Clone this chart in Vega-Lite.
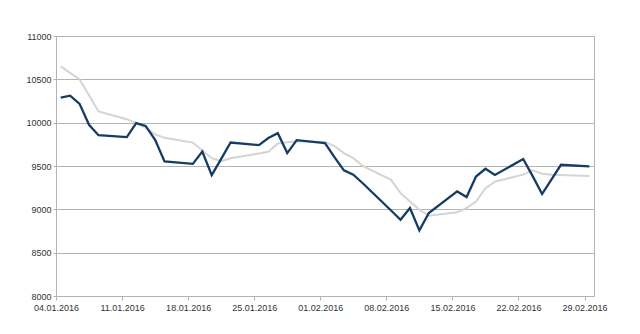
{
  "$schema": "https://vega.github.io/schema/vega-lite/v6.json",
  "width": 538,
  "height": 260,
  "autosize": {"type": "none"},
  "padding": {"left": 56, "top": 36, "right": 46, "bottom": 38},
  "background": "white",
  "config": {
    "view": {"stroke": "#b3b3b3", "strokeWidth": 1},
    "axis": {
      "labelFont": "Liberation Sans",
      "labelFontSize": 9,
      "labelColor": "#333333",
      "domainColor": "#b3b3b3",
      "tickColor": "#b3b3b3",
      "gridColor": "#b3b3b3",
      "title": null
    }
  },
  "data": {
    "values": [
      {"d": "2016-01-04T12:00:00", "a": 10289, "b": 10650},
      {"d": "2016-01-05T12:00:00", "a": 10312, "b": 10575},
      {"d": "2016-01-06T12:00:00", "a": 10217, "b": 10500},
      {"d": "2016-01-07T12:00:00", "a": 9975, "b": 10315},
      {"d": "2016-01-08T12:00:00", "a": 9855, "b": 10130},
      {"d": "2016-01-11T12:00:00", "a": 9833, "b": 10040},
      {"d": "2016-01-12T12:00:00", "a": 9994, "b": 9995},
      {"d": "2016-01-13T12:00:00", "a": 9963, "b": 9940},
      {"d": "2016-01-14T12:00:00", "a": 9802, "b": 9865},
      {"d": "2016-01-15T12:00:00", "a": 9552, "b": 9825},
      {"d": "2016-01-18T12:00:00", "a": 9525, "b": 9770},
      {"d": "2016-01-19T12:00:00", "a": 9667, "b": 9680},
      {"d": "2016-01-20T12:00:00", "a": 9395, "b": 9590},
      {"d": "2016-01-21T12:00:00", "a": 9583, "b": 9555},
      {"d": "2016-01-22T12:00:00", "a": 9771, "b": 9590},
      {"d": "2016-01-25T12:00:00", "a": 9741, "b": 9645},
      {"d": "2016-01-26T12:00:00", "a": 9822, "b": 9665},
      {"d": "2016-01-27T12:00:00", "a": 9879, "b": 9760},
      {"d": "2016-01-28T12:00:00", "a": 9649, "b": 9775},
      {"d": "2016-01-29T12:00:00", "a": 9798, "b": 9785},
      {"d": "2016-02-01T12:00:00", "a": 9764, "b": 9778},
      {"d": "2016-02-02T12:00:00", "a": 9602, "b": 9730},
      {"d": "2016-02-03T12:00:00", "a": 9449, "b": 9648},
      {"d": "2016-02-04T12:00:00", "a": 9399, "b": 9590},
      {"d": "2016-02-05T12:00:00", "a": 9301, "b": 9500},
      {"d": "2016-02-08T12:00:00", "a": 8987, "b": 9340},
      {"d": "2016-02-09T12:00:00", "a": 8880, "b": 9188},
      {"d": "2016-02-10T12:00:00", "a": 9015, "b": 9090},
      {"d": "2016-02-11T12:00:00", "a": 8757, "b": 8995},
      {"d": "2016-02-12T12:00:00", "a": 8957, "b": 8925},
      {"d": "2016-02-15T12:00:00", "a": 9207, "b": 8965},
      {"d": "2016-02-16T12:00:00", "a": 9142, "b": 9015},
      {"d": "2016-02-17T12:00:00", "a": 9379, "b": 9090},
      {"d": "2016-02-18T12:00:00", "a": 9468, "b": 9245},
      {"d": "2016-02-19T12:00:00", "a": 9396, "b": 9320},
      {"d": "2016-02-22T12:00:00", "a": 9580, "b": 9400},
      {"d": "2016-02-23T12:00:00", "a": 9383, "b": 9450},
      {"d": "2016-02-24T12:00:00", "a": 9176, "b": 9410},
      {"d": "2016-02-25T12:00:00", "a": 9345, "b": 9400},
      {"d": "2016-02-26T12:00:00", "a": 9514, "b": 9395},
      {"d": "2016-02-29T12:00:00", "a": 9495, "b": 9385}
    ]
  },
  "encoding": {
    "x": {
      "field": "d",
      "type": "temporal",
      "scale": {
        "domain": [
          {"year": 2016, "month": 1, "date": 4},
          {"year": 2016, "month": 3, "date": 1}
        ]
      },
      "axis": {
        "values": [
          {"year": 2016, "month": 1, "date": 4},
          {"year": 2016, "month": 1, "date": 11},
          {"year": 2016, "month": 1, "date": 18},
          {"year": 2016, "month": 1, "date": 25},
          {"year": 2016, "month": 2, "date": 1},
          {"year": 2016, "month": 2, "date": 8},
          {"year": 2016, "month": 2, "date": 15},
          {"year": 2016, "month": 2, "date": 22},
          {"year": 2016, "month": 2, "date": 29}
        ],
        "format": "%d.%m.%Y",
        "grid": false,
        "tickSize": 4,
        "labelPadding": 3,
        "labelFlush": false,
        "labelOverlap": false
      }
    }
  },
  "layer": [
    {
      "mark": {"type": "line", "color": "#d4d4d4", "strokeWidth": 2},
      "encoding": {
        "y": {
          "field": "b",
          "type": "quantitative",
          "scale": {"domain": [8000, 11000], "zero": false},
          "axis": {"values": [8000, 8500, 9000, 9500, 10000, 10500, 11000], "format": "d", "tickSize": 3, "labelPadding": 2, "grid": true}
        }
      }
    },
    {
      "mark": {"type": "line", "color": "#143c64", "strokeWidth": 2.3},
      "encoding": {
        "y": {"field": "a", "type": "quantitative"}
      }
    }
  ]
}
